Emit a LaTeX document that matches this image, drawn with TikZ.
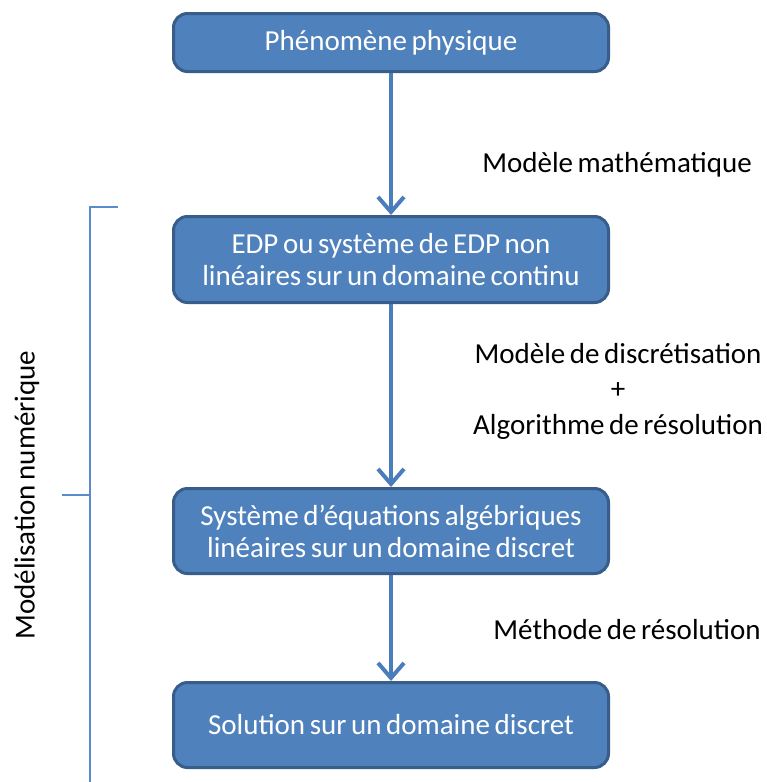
\documentclass[tikz,border=0pt]{standalone}
\usepackage{fontspec}
\setmainfont{Carlito}[WordSpace=0.7]
\usetikzlibrary{arrows.meta}
\definecolor{boxfill}{HTML}{4F81BD}
\definecolor{boxdraw}{HTML}{385D8A}
\definecolor{arrowc}{HTML}{4A7EBB}
\definecolor{bracketc}{HTML}{5B8BC9}
\begin{document}
\begin{tikzpicture}[x=1pt,y=-1pt,
  box/.style={draw=boxdraw, line width=3pt, fill=boxfill, rounded corners=14pt,
    text=white, font=\fontsize{29}{32}\selectfont, align=center,
    minimum width=435pt, inner sep=0pt},
  lbl/.style={font=\fontsize{29}{35.5}\selectfont, align=center, inner sep=0pt},
  flow/.style={draw=arrowc, line width=4pt,
    -{Straight Barb[length=15pt, width=26pt, line width=4pt]}},
  bracket/.style={draw=bracketc, line width=1.5pt}]
\useasboundingbox (0,0) rectangle (767,782);
\node[box, minimum height=58pt] (b1) at (391,42.5) {Phénomène physique};
\node[box, minimum height=86pt] (b2) at (391,259.5) {EDP ou système de EDP non\\linéaires sur un domaine continu};
\node[box, minimum height=85pt] (b3) at (391,531) {Système d’équations algébriques\\linéaires sur un domaine discret};
\node[box, minimum height=85pt] (b4) at (391,725) {Solution sur un domaine discret};
\draw[flow] (b1.south) -- (b2.north);
\draw[flow] (b2.south) -- (b3.north);
\draw[flow] (b3.south) -- (b4.north);
\node[lbl] (l1) at (617,165) {Modèle mathématique};
\node[lbl] (l2) at (618,391) {Modèle de discrétisation\\+\\Algorithme de résolution};
\node[lbl] (l3) at (627,630) {Méthode de résolution};
\coordinate (bt) at (118,207);
\coordinate (bc) at (90,207);
\coordinate (bb) at (90,782);
\coordinate (mm) at (90,495);
\coordinate (ml) at (62,495);
\draw[bracket] (bt) -- (bc) -- (bb);
\draw[bracket] (mm) -- (ml);
\node[lbl, rotate=90] (side) at (27,495) {Modélisation numérique};
\end{tikzpicture}
\end{document}
